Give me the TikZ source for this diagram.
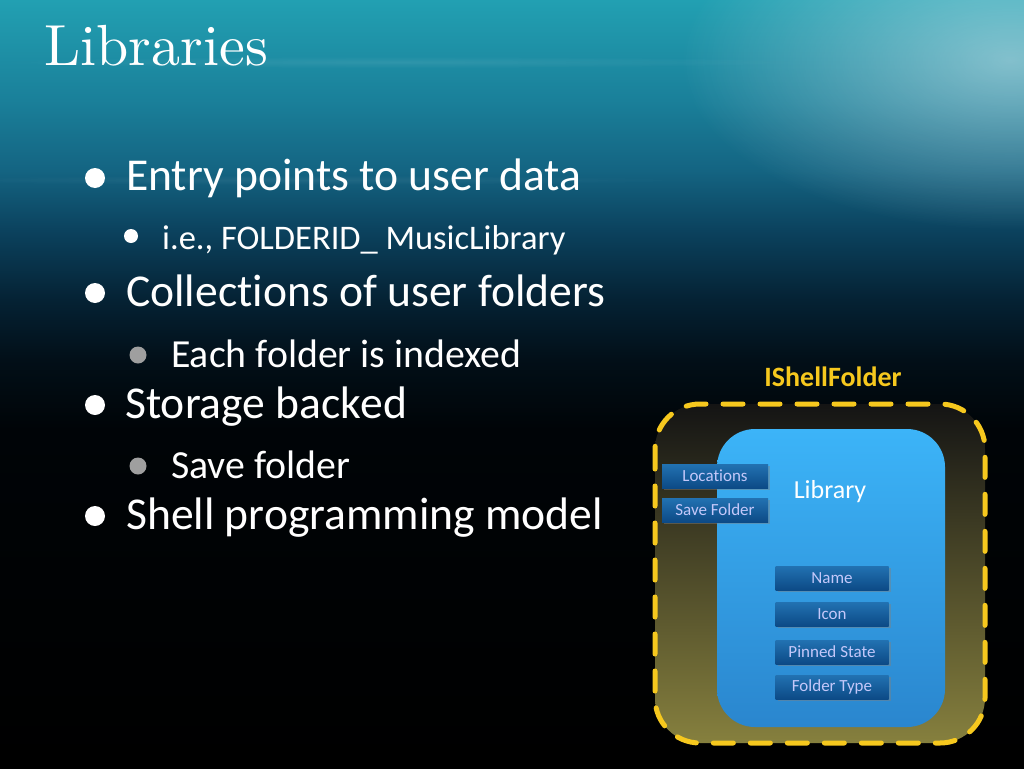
\documentclass[tikz,border=0pt]{standalone}
\usepackage{fontspec}
\setmainfont{Carlito}[Ligatures=NoCommon]
\newfontfamily\titlefont{lmroman10-regular.otf}
\usetikzlibrary{fadings,shadows}
\tikzfading[name=glowfade,inner color=transparent!0,outer color=transparent!100]
\definecolor{dashyellow}{HTML}{F6C81E}
\definecolor{boxtext}{HTML}{C4C8FA}
\definecolor{libtop}{HTML}{3CB4F8}
\definecolor{libbot}{HTML}{2A86CE}
\definecolor{smalltop}{HTML}{2272B2}
\definecolor{smallbot}{HTML}{0C4A86}
\definecolor{outertop}{HTML}{141414}
\definecolor{outermid}{HTML}{1E1C12}
\definecolor{outerbot}{HTML}{86803E}
\definecolor{bg0}{RGB}{34,160,178}
\definecolor{bg1}{RGB}{26,128,154}
\definecolor{bg2}{RGB}{20,100,130}
\definecolor{bg3}{RGB}{11,66,94}
\definecolor{bg4}{RGB}{5,34,52}
\definecolor{bg5}{RGB}{2,15,24}
\definecolor{bg6}{RGB}{0,4,7}
\pgfdeclareverticalshading{bgshade}{100bp}{color(0bp)=(black); color(25bp)=(black);
  color(47bp)=(bg6); color(51.6bp)=(bg5); color(55.5bp)=(bg4); color(60bp)=(bg3);
  color(63.9bp)=(bg2); color(68.5bp)=(bg1); color(75bp)=(bg0); color(100bp)=(bg0)}
\tikzset{
  bul/.style={circle,fill=white,inner sep=0pt,minimum size=20pt},
  subbul/.style={circle,fill=white,inner sep=0pt,minimum size=14pt},
  greybul/.style={circle,fill=gray!75,inner sep=0pt,minimum size=17pt},
  maintext/.style={anchor=base west,inner sep=0pt,text=white,font=\fontsize{45.6}{50}\selectfont},
  subtext/.style={anchor=base west,inner sep=0pt,text=white,font=\fontsize{34.5}{38}\selectfont},
  subtexttwo/.style={anchor=base west,inner sep=0pt,text=white,font=\fontsize{39.8}{43}\selectfont},
  smallbox/.style={minimum height=24pt,inner sep=0pt,text=boxtext,
     top color=smalltop,bottom color=smallbot,font=\fontsize{17}{19}\selectfont,
     drop shadow={opacity=0.45,shadow xshift=2pt,shadow yshift=-2pt}},
}
\begin{document}
\begin{tikzpicture}[x=1pt,y=-1pt]
\useasboundingbox (0,0) rectangle (1024,768);
% background
\shade[shading=bgshade] (0,0) rectangle (1024,768);
\fill[white,opacity=0.45,path fading=glowfade] (1010,60) ellipse (330pt and 170pt);
\fill[white,opacity=0.08,path fading=glowfade] (400,62) ellipse (420pt and 6pt);
\fill[white,opacity=0.06,path fading=glowfade] (300,180) ellipse (400pt and 5pt);
% title
\node[anchor=base west,inner sep=0pt,text=white,font=\titlefont\fontsize{58}{62}\selectfont] (title) at (44,66) {Libraries};
% bullets
\node[bul] (b1) at (95,178) {};
\node[maintext] (t1) at (126,190) {Entry points to user data};
\node[subbul] (b2) at (131,236) {};
\node[subtext] (t2) at (162,249) {i.e., FOLDERID\_ MusicLibrary};
\node[bul] (b3) at (95,293) {};
\node[maintext] (t3) at (126,306) {Collect\kern0pt ions of user folders};
\node[greybul] (b4) at (138,355) {};
\node[subtexttwo] (t4) at (171,367) {Each folder is indexed};
\node[bul] (b5) at (95,405) {};
\node[maintext] (t5) at (125,418) {Storage backed};
\node[greybul] (b6) at (138,466) {};
\node[subtexttwo] (t6) at (171,478) {Save folder};
\node[bul] (b7) at (95,516) {};
\node[maintext] (t7) at (126,529) {Shell programming model};
% diagram
\node[text=dashyellow,font=\bfseries\fontsize{28}{31}\selectfont] (ishell) at (833,377) {IShellFolder};
\shade[top color=outertop,middle color=outermid,bottom color=outerbot,rounded corners=45pt] (655,404) rectangle (985,743);
\draw[dashyellow,line width=5pt,dash pattern=on 20pt off 17pt,line cap=round,rounded corners=45pt] (655,404) rectangle (985,743);
\shade[top color=libtop,bottom color=libbot,rounded corners=38pt] (717,429) rectangle (945,727);
\node[text=white,font=\fontsize{26}{29}\selectfont] (lib) at (830,492) {Library};
\node[smallbox,minimum width=106pt] (loc) at (715,476) {Locations};
\node[smallbox,minimum width=106pt] (save) at (715,510) {Save Folder};
\node[smallbox,minimum width=113pt] (name) at (832,578) {Name};
\node[smallbox,minimum width=113pt] (icon) at (832,614) {Icon};
\node[smallbox,minimum width=113pt] (pin) at (832,652) {Pinned State};
\node[smallbox,minimum width=113pt] (ftype) at (832,687) {Folder Type};
\end{tikzpicture}
\end{document}
